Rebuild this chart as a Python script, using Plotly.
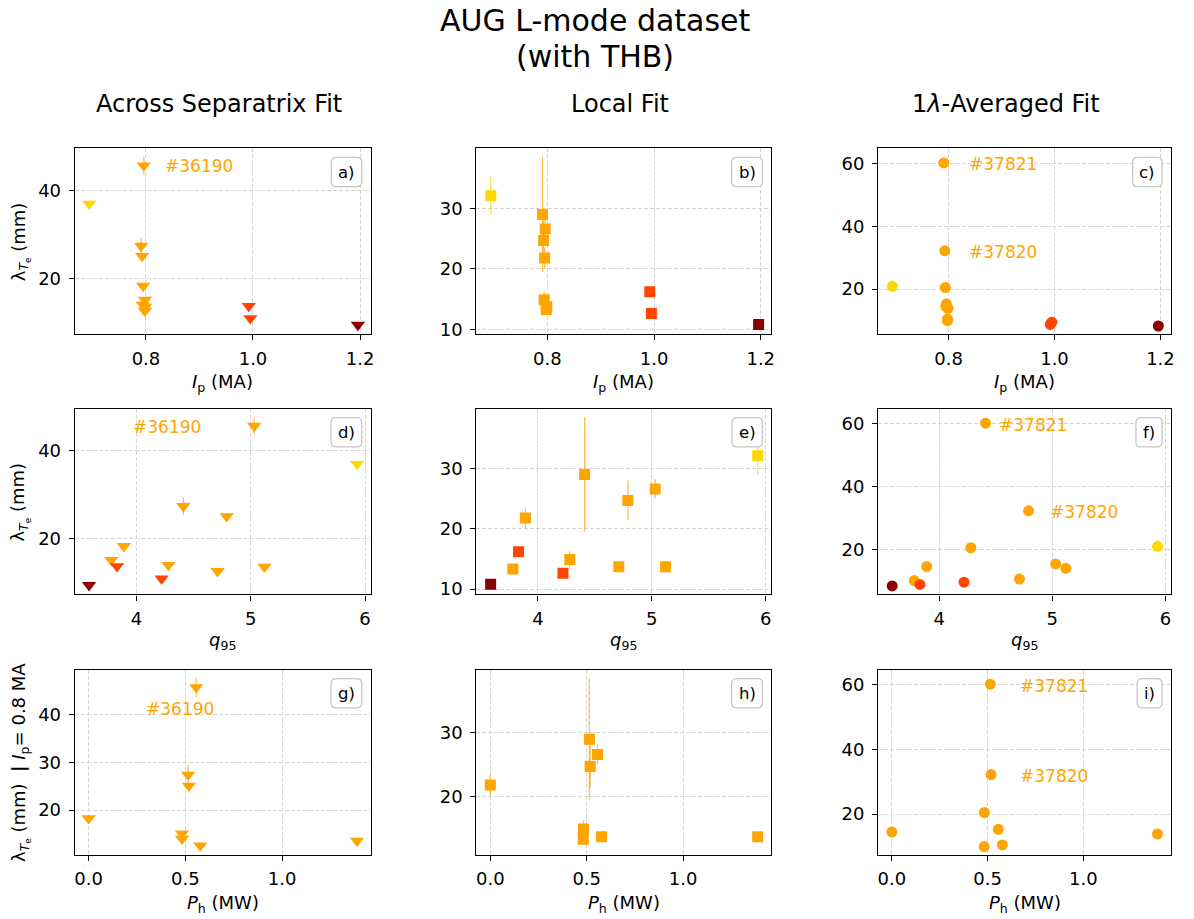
import plotly.graph_objects as go

# ---- shot data (sorted by q95) ----
ip = [1.196, 0.798, 0.992, 0.795, 0.995, 0.794, 0.791, 0.798, 0.793, 0.796, 0.799, 0.694]  # MA
q95 = [3.585, 3.78, 3.83, 3.89, 4.22, 4.28, 4.41, 4.71, 4.79, 5.03, 5.12, 5.93]
ph = [None, 0.482, None, 0.0, None, 0.483, 0.514, 0.577, 0.518, 0.556, 1.387, None]  # MW

lam_sep = [9.4, 15.1, 13.7, 18.3, 10.9, 14.0, 27.4, 12.6, 25.1, 45.7, 13.6, 37.0]
lam_sep_err = [0, 0, 0, 0, 0, 0, 2.0, 0, 0, 2.0, 0, 0]
lam_loc = [10.8, 13.3, 16.2, 21.8, 12.6, 14.9, 29.0, 13.7, 24.7, 26.6, 13.7, 32.1]
lam_loc_err = [0, 0.9, 0.8, 1.7, 0, 1.35, 9.5, 0, 3.3, 1.6, 0, 3.2]
lam_avg = [8.3, 10.0, 8.8, 14.5, 9.5, 20.5, 60.1, 10.5, 32.2, 15.3, 13.9, 20.9]

ip_levels = [0.7, 0.8, 1.0, 1.2]
level_colors = ["#FFD700", "#FFA500", "#FF4500", "#8B0000"]
level_err_colors = ["rgba(255,215,0,0.75)", "rgba(255,165,0,0.75)",
                    "rgba(255,69,0,0.75)", "rgba(139,0,0,0.75)"]

col_titles = ["Across Separatrix Fit", "Local Fit", "1<i>λ</i>-Averaged Fit"]
panel_tags = ["a)", "b)", "c)", "d)", "e)", "f)", "g)", "h)", "i)"]

x_ticks = [[0.8, 1.0, 1.2], [4, 5, 6], [0.0, 0.5, 1.0]]
x_ticktext = [["0.8", "1.0", "1.2"], ["4", "5", "6"], ["0.0", "0.5", "1.0"]]
x_ranges = [[0.667, 1.22], [3.46, 6.05], [-0.072, 1.458]]
y_ticks = [[[20, 40], [10, 20, 30], [20, 40, 60]],
           [[20, 40], [10, 20, 30], [20, 40, 60]],
           [[20, 30, 40], [20, 30], [20, 40, 60]]]
y_ranges = [[[7.3, 49.6], [9.2, 39.9], [5.7, 64.7]],
            [[7.3, 49.6], [9.1, 39.9], [5.6, 64.7]],
            [[10.7, 49.4], [10.9, 39.9], [7.5, 64.6]]]

W, H = 1194, 919
FONT = "DejaVu Sans"
col_px = [(75, 372), (478, 774), (881, 1175)]
row_px = [(149.3, 336), (411, 597.7), (673.3, 859.3)]


def px_x(x):
    return x / W


def px_y(y):
    return 1 - y / H


def level_of(v):
    return min(range(len(ip_levels)), key=lambda i: abs(ip_levels[i] - v))


fig = go.Figure()

x_sources = [ip, q95, ph]
y_sources = [lam_sep, lam_loc, lam_avg]
err_sources = [lam_sep_err, lam_loc_err, None]
symbols = ["triangle-down", "square", "circle"]
sizes = [12.5, 11, 11]

for r in range(3):
    for c in range(3):
        k = r * 3 + c + 1
        xa = "x" if k == 1 else f"x{k}"
        ya = "y" if k == 1 else f"y{k}"
        for lv in range(len(ip_levels)):
            idx = [i for i in range(len(ip)) if level_of(ip[i]) == lv]
            if r == 2:
                idx = [i for i in idx if ip_levels[lv] == 0.8 and ph[i] is not None]
            if not idx:
                continue
            xs = [x_sources[r][i] for i in idx]
            ys = [y_sources[c][i] for i in idx]
            err = None
            if err_sources[c] is not None:
                ev = [err_sources[c][i] for i in idx]
                if any(e > 0 for e in ev):
                    err = dict(type="data", array=ev, visible=True, width=0,
                               thickness=1.2, color=level_err_colors[lv])
            fig.add_trace(go.Scatter(
                x=xs, y=ys, mode="markers", xaxis=xa, yaxis=ya,
                marker=dict(symbol=symbols[c], size=sizes[c], color=level_colors[lv],
                            line=dict(width=0)),
                error_y=err, showlegend=False, hoverinfo="x+y"))

        x0, x1 = col_px[c]
        t0, t1 = row_px[r]
        axis_common = dict(
            showline=True, linecolor="black", linewidth=1.2, mirror=True,
            ticks="outside", ticklen=5, tickwidth=1.2, tickcolor="black",
            showgrid=True, gridcolor="#d6d6d6", gridwidth=1, griddash="4px,2px",
            zeroline=False, tickfont=dict(family=FONT, size=18, color="black"),
        )
        xname = "xaxis" if k == 1 else f"xaxis{k}"
        yname = "yaxis" if k == 1 else f"yaxis{k}"
        fig.update_layout(**{
            xname: dict(axis_common, domain=[px_x(x0), px_x(x1)], anchor=ya,
                        range=x_ranges[r], tickmode="array", tickvals=x_ticks[r],
                        ticktext=x_ticktext[r], ticklabelstandoff=3),
            yname: dict(axis_common, domain=[px_y(t1), px_y(t0)], anchor=xa,
                        range=y_ranges[r][c], tickmode="array", tickvals=y_ticks[r][c],
                        ticklabelstandoff=4),
        })

annotations = []
shapes = []

# figure title
annotations.append(dict(text="AUG L-mode dataset", x=0.5, y=px_y(20.5), xref="paper",
                        yref="paper", xanchor="center", yanchor="middle", showarrow=False,
                        font=dict(family=FONT, size=30, color="black")))
annotations.append(dict(text="(with THB)", x=0.5, y=px_y(56.5), xref="paper",
                        yref="paper", xanchor="center", yanchor="middle", showarrow=False,
                        font=dict(family=FONT, size=30, color="black")))

# column titles
title_cx = [220, 622, 1009]
for c in range(3):
    annotations.append(dict(text=col_titles[c], x=px_x(title_cx[c]), y=px_y(105),
                            xref="paper", yref="paper", xanchor="center", yanchor="middle",
                            showarrow=False, font=dict(family=FONT, size=24, color="black")))

# axis labels
x_labels = ["<i>I</i><sub>p</sub> (MA)", "<i>q</i><sub>95</sub>", "<i>P</i><sub>h</sub> (MW)"]
x_label_y = [385, 645, 909]
lam_lbl = "λ<sub><i>T</i><sub>e</sub></sub> (mm)"
y_labels = [lam_lbl, lam_lbl, lam_lbl + "  <b>|</b> <i>I</i><sub>p</sub>= 0.8 MA"]
for r in range(3):
    for c in range(3):
        cx = (col_px[c][0] + col_px[c][1]) / 2
        annotations.append(dict(text=x_labels[r], x=px_x(cx), y=px_y(x_label_y[r]),
                                xref="paper", yref="paper", xanchor="center",
                                yanchor="middle", showarrow=False,
                                font=dict(family=FONT, size=18, color="black")))
    cy = (row_px[r][0] + row_px[r][1]) / 2
    annotations.append(dict(text=y_labels[r], x=px_x(20), y=px_y(cy), xref="paper",
                            yref="paper", xanchor="center", yanchor="middle",
                            textangle=-90, showarrow=False,
                            font=dict(family=FONT, size=18, color="black")))

# shot labels
shot_color = "#FFA500"
shot_labels = [
    (1, "#36190", 0.832, 45.7),
    (4, "#36190", 3.956, 45.5),
    (7, "#36190", 0.284, 41.2),
    (3, "#37821", 0.834, 59.8),
    (3, "#37820", 0.834, 31.9),
    (6, "#37821", 4.513, 59.5),
    (6, "#37820", 4.962, 31.9),
    (9, "#37821", 0.657, 59.5),
    (9, "#37820", 0.657, 31.7),
]
for k, txt, xv, yv in shot_labels:
    annotations.append(dict(text=txt, x=xv, y=yv,
                            xref="x" if k == 1 else f"x{k}",
                            yref="y" if k == 1 else f"y{k}",
                            xanchor="left", yanchor="middle", showarrow=False,
                            font=dict(family=FONT, size=17, color=shot_color)))

# panel tags in rounded boxes
char_w = {"a": 0.613, "b": 0.635, "c": 0.550, "d": 0.635, "e": 0.615, "f": 0.352,
          "g": 0.635, "h": 0.634, "i": 0.278, ")": 0.390}
tag_size = 16.5


def rounded_box(L, T, R, B, k):
    pts = [
        ("M", L + k, T), ("L", R - k, T), ("Q", R, T, R, T + k), ("L", R, B - k),
        ("Q", R, B, R - k, B), ("L", L + k, B), ("Q", L, B, L, B - k), ("L", L, T + k),
        ("Q", L, T, L + k, T),
    ]
    out = []
    for p in pts:
        if p[0] == "Q":
            out.append(f"Q{px_x(p[1]):.5f},{px_y(p[2]):.5f} {px_x(p[3]):.5f},{px_y(p[4]):.5f}")
        else:
            out.append(f"{p[0]}{px_x(p[1]):.5f},{px_y(p[2]):.5f}")
    return " ".join(out) + " Z"


for r in range(3):
    for c in range(3):
        tag = panel_tags[r * 3 + c]
        tw = sum(char_w[ch] for ch in tag) * tag_size
        R = col_px[c][1] - 9
        L = R - tw - 14
        T = row_px[r][0] + 9
        B = T + 29.4
        shapes.append(dict(type="path", path=rounded_box(L, T, R, B, 5), xref="paper",
                           yref="paper", line=dict(color="#c6c6c6", width=1.3),
                           fillcolor="white", layer="above"))
        annotations.append(dict(text=tag, x=px_x((L + R) / 2), y=px_y((T + B) / 2),
                                xref="paper", yref="paper", xanchor="center",
                                yanchor="middle", showarrow=False,
                                font=dict(family=FONT, size=tag_size, color="black")))

fig.update_layout(
    width=W, height=H, margin=dict(l=0, r=0, t=0, b=0),
    paper_bgcolor="white", plot_bgcolor="white",
    font=dict(family=FONT, color="black"),
    annotations=annotations, shapes=shapes, showlegend=False,
)

fig.write_html("out.html")
